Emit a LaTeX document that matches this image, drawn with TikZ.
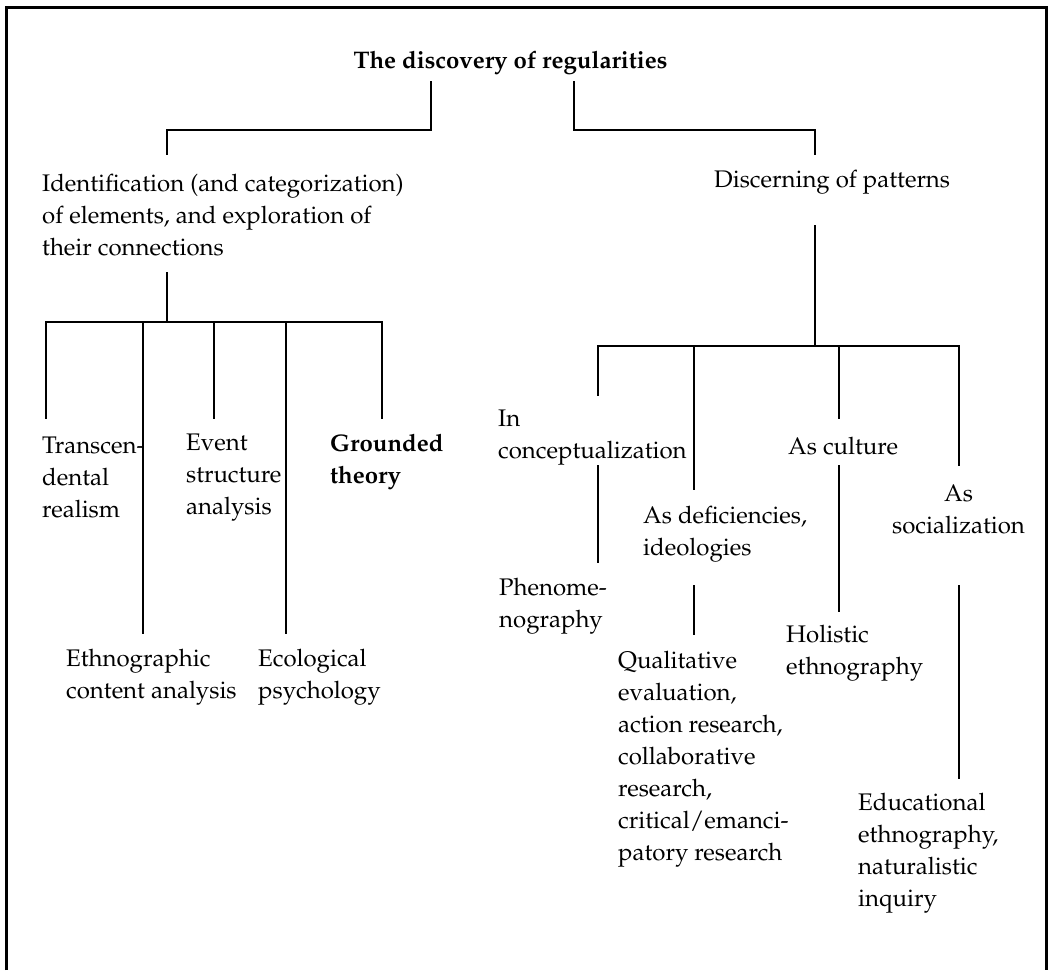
\documentclass[tikz,border=0pt]{standalone}
\usepackage[T1]{fontenc}
\usepackage{palatino}
\usepackage{tikz}
\tikzset{
    chart text/.style={
        align=left,
        anchor=west,
        inner sep=0pt,
        font=\fontsize{24}{32}\selectfont
    },
    chart title/.style={chart text, font=\fontsize{24}{32}\selectfont\bfseries},
    chart link/.style={line width=1.8pt, line cap=rect},
    chart frame/.style={line width=3pt}
}

\begin{document}
\begin{tikzpicture}[x=1pt, y=-1pt]
    \useasboundingbox (0,0) rectangle (1049,970);
    \draw[chart frame] (6,970) -- (6,7) -- (1046,7) -- (1046,970);

    \node[chart title, anchor=center] (root) at (510.5,63) {The discovery of regularities};

    \node[chart text] (ident) at (42,215) {Identification (and categorization)\\of elements, and exploration of\\their connections};
    \node[chart text] (discern) at (714,182) {Discerning of patterns};

    \node[chart text] (trans) at (42,477.5) {Transcen-\\dental\\realism};
    \node[chart text] (event) at (186,478) {Event\\structure\\analysis};
    \node[chart title] (grounded) at (330,461.5) {Grounded\\theory};
    \node[chart text] (ethno) at (66,677.5) {Ethnographic\\content analysis};
    \node[chart text] (ecol) at (258,677.5) {Ecological\\psychology};

    \node[chart text] (inconc) at (498,437.5) {In\\conceptualization};
    \node[chart text] (phenom) at (499,606) {Phenome-\\nography};
    \node[chart text] (asdef) at (643,534) {As deficiencies,\\ideologies};
    \node[chart text] (qual) at (618,759) {Qualitative\\evaluation,\\action research,\\collaborative\\research,\\critical/emanci-\\patory research};
    \node[chart text] (asculture) at (788,446) {As culture};
    \node[chart text] (holistic) at (786,653) {Holistic\\ethnography};
    \node[chart text, align=center, anchor=center] (associal) at (958.5,509) {As\\socialization};
    \node[chart text] (educ) at (858,853) {Educational\\ethnography,\\naturalistic\\inquiry};

    \coordinate (root-l) at (431,82);
    \coordinate (root-r) at (574,82);
    \coordinate (ident-in) at (167,154);
    \coordinate (ident-out) at (167,273);
    \coordinate (discern-in) at (815,154);
    \coordinate (discern-out) at (815,226);
    \coordinate (left-bar) at (167,322);
    \coordinate (right-bar) at (815,346);
    \coordinate (culture-out) at (839,466);

    \draw[chart link] (root-l) -- ++(0,48) -| (ident-in);
    \draw[chart link] (root-r) -- ++(0,48) -| (discern-in);

    % identification branches
    \draw[chart link] (ident-out) -- (left-bar);
    \draw[chart link] (left-bar -| 46,0) -- (left-bar -| 382,0);
    \foreach \x/\y in {46/418, 143/633, 214/418, 286/633, 382/418}
        \draw[chart link] (left-bar -| \x,0) -- (\x,\y);

    % pattern branches
    \draw[chart link] (discern-out) -- (right-bar);
    \draw[chart link] (right-bar -| 598,0) -- (right-bar -| 959,0);
    \foreach \x/\y in {598/395, 694/489, 839/418, 959/465}
        \draw[chart link] (right-bar -| \x,0) -- (\x,\y);

    \draw[chart link] (inconc.south -| 598,0) -- (598,562);
    \draw[chart link] (694,586) -- (694,634);
    \draw[chart link] (culture-out) -- (839,611);
    \draw[chart link] (959,586) -- (959,778);
\end{tikzpicture}
\end{document}
